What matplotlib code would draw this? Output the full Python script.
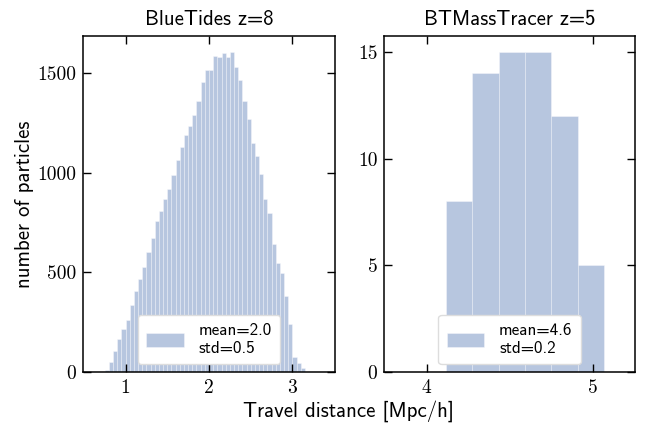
import numpy as np
import matplotlib
matplotlib.use("Agg")
import matplotlib.pyplot as plt
from matplotlib import ticker

# BlueTides z=8 histogram, bin width 0.05 starting at 0.75
bt_edges_start = 0.75
bt_bin_width = 0.05
bt_counts = [10, 49, 107, 166, 217, 262, 334, 405, 467, 526,
             601, 670, 757, 808, 867, 917, 988, 1063, 1130, 1187,
             1233, 1290, 1362, 1455, 1515, 1515, 1586, 1582, 1599, 1579,
             1606, 1533, 1463, 1359, 1270, 1150, 1082, 993, 870, 800,
             640, 548, 498, 380, 240, 77, 45, 18]

# BTMassTracer z=5 histogram
mt_edges = [4.116, 4.274, 4.432, 4.590, 4.748, 4.906, 5.064]
mt_counts = [8, 14, 15, 15, 12, 5]

titles = ["BlueTides z=8", "BTMassTracer z=5"]
legend_labels = ["mean=2.0\nstd=0.5", "mean=4.6\nstd=0.2"]

bt_edges = bt_edges_start + bt_bin_width * np.arange(len(bt_counts) + 1)
bt_centers = 0.5 * (bt_edges[:-1] + bt_edges[1:])
mt_edges = np.array(mt_edges)
mt_centers = 0.5 * (mt_edges[:-1] + mt_edges[1:])

bar_color = "#4C72B0"
text_font = "cmss10"
num_font = "cmr10"

fig = plt.figure(figsize=(6.45, 4.26), dpi=100)
ax1 = fig.add_axes([0.1287, 0.1268, 0.3907, 0.7887])
ax2 = fig.add_axes([0.5958, 0.1268, 0.3887, 0.7887])

ax1.hist(bt_centers, bins=bt_edges, weights=bt_counts, color=bar_color,
         alpha=0.4, edgecolor="white", linewidth=0.6, label=legend_labels[0])
ax2.hist(mt_centers, bins=mt_edges, weights=mt_counts, color=bar_color,
         alpha=0.4, edgecolor="white", linewidth=0.6, label=legend_labels[1])

ax1.set_xlim(0.49, 3.51)
ax1.set_xticks([1, 2, 3])
ax1.set_yticks([0, 500, 1000, 1500])
ax2.set_xlim(3.746, 5.25)
ax2.set_xticks([4, 5])
ax2.set_yticks([0, 5, 10, 15])

fmt = ticker.FuncFormatter(lambda v, p: "%g" % v)
for ax, title in zip([ax1, ax2], titles):
    ax.set_title(title, fontsize=15, family=text_font, pad=8)
    ax.tick_params(direction="in", top=True, right=True, length=6,
                   width=1, labelsize=14, pad=5)
    ax.xaxis.set_major_formatter(fmt)
    ax.yaxis.set_major_formatter(fmt)
    for lab in ax.get_xticklabels() + ax.get_yticklabels():
        lab.set_family(num_font)
    for s in ax.spines.values():
        s.set_linewidth(1.1)
    leg = ax.legend(loc="lower center", prop={"family": text_font, "size": 12.3},
                    handlelength=2.2, handleheight=0.9, handletextpad=0.85,
                    borderpad=0.5, labelspacing=0.15, fancybox=True,
                    framealpha=1, borderaxespad=0.45)
    leg.get_frame().set_edgecolor("#dddddd")
    leg.get_frame().set_linewidth(1.0)

ax1.set_ylabel("number of particles", fontsize=15, family=text_font, labelpad=2)
fig.text(0.54, 0.035, "Travel distance [Mpc/h]", fontsize=15,
         family=text_font, ha="center", va="center")

fig.savefig("out.png", dpi=100)
